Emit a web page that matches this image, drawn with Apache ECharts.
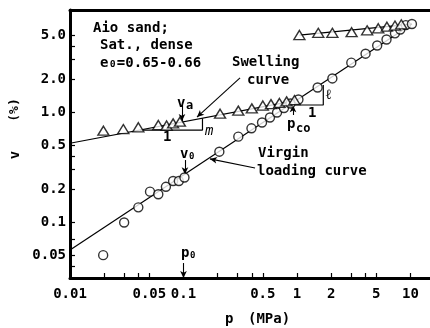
<!DOCTYPE html>
<html><head><meta charset="utf-8">
<script src="https://cdn.jsdelivr.net/npm/echarts@6/dist/echarts.min.js"></script>
<style>html,body{margin:0;padding:0;background:#fff}#c{width:430px;height:328px}</style>
</head><body><div id="c"></div>
<script>
// ---- axis ticks / labels ----
const xTickValues = [0.01,0.02,0.03,0.04,0.05,0.1,0.2,0.3,0.4,0.5,1,2,3,4,5,10];
const xLabelValues = [0.01,0.05,0.1,0.5,1,2,5,10];
const xLabelTexts = ['0.01','0.05','0.1','0.5','1','2','5','10'];
const yTickValues = [0.04,0.05,0.07,0.1,0.2,0.3,0.4,0.5,1,2,3,4,5];
const yLabelValues = [0.05,0.1,0.2,0.5,1,2,5];
const yLabelTexts = ['0.05','0.1','0.2','0.5','1.0','2.0','5.0'];

// ---- virgin loading (circles) ----
const virginP = [0.0196,0.030,0.040,0.0507,0.060,0.070,0.081,0.091,0.102,0.207,0.304,0.397,0.492,0.578,0.667,0.768,0.877,1.03,1.52,2.05,3.01,4.02,5.09,6.15,7.3,8.13,9.1,10.3];
const virginV = [0.050,0.099,0.136,0.189,0.179,0.209,0.236,0.236,0.254,0.436,0.597,0.711,0.803,0.891,0.99,1.087,1.195,1.30,1.67,2.02,2.81,3.39,4.02,4.56,5.19,5.62,6.17,6.31];
// fitted virgin loading line
const virginLineP = [0.01, 10.3];
const virginLineV = [0.0556, 6.3];

// ---- swelling (triangles) ----
const swellP = [0.0197,0.0295,0.040,0.060,0.071,0.081,0.093,0.21,0.304,0.40,0.50,0.59,0.70,0.81,0.95];
const swellV = [0.676,0.70,0.727,0.762,0.754,0.789,0.816,0.965,1.03,1.08,1.146,1.18,1.21,1.25,1.285];
const swellLineP = [0.01, 1.02];
const swellLineV = [0.52, 1.285];

// ---- upper swelling (triangles) ----
const upperP = [1.05,1.54,2.05,3.03,4.15,5.2,6.2,7.3,8.3];
const upperV = [5.01,5.25,5.25,5.32,5.53,5.77,5.96,6.11,6.27];
const upperLineP = [1.05, 10.3];
const upperLineV = [5.01, 6.3];

// ---- slope triangles ----
const slopeMP = [0.0414,0.147,0.147];
const slopeMV = [0.686,0.686,0.88];
const slopeLP = [0.90,1.705,1.705];
const slopeLV = [1.158,1.158,1.76];

const zip = (a,b) => a.map((x,i)=>[x,b[i]]);
const FONT = '"DejaVu Sans Mono", monospace';
const chart = echarts.init(document.getElementById('c'), null, {renderer:'canvas'});

const lineSeries = (p,v) => ({type:'line', data:zip(p,v), symbol:'none', lineStyle:{color:'#000', width:1.2}, z:2, silent:true, animation:false});
const arrow = (from,to,curv) => [
  {coord:from, lineStyle:{curveness:curv||0}},
  {coord:to, lineStyle:{curveness:curv||0}}
];

const txt = (x,y,s,opt) => ({type:'text', x, y, z:100, style:Object.assign({text:s, font:'bold 14px '+FONT, fill:'#000', align:'left', verticalAlign:'middle'}, opt||{})});

chart.setOption({
  animation:false,
  backgroundColor:'#fff',
  grid:{left:70, right:0, top:10, bottom:50},
  xAxis:[{
    type:'log', logBase:10, min:0.01, max:14.86,
    axisLine:{show:true, onZero:false, lineStyle:{color:'#000', width:3}},
    axisTick:{show:true, inside:true, length:5, lineStyle:{color:'#000', width:1.2}, customValues:xTickValues},
    axisLabel:{customValues:xLabelValues, margin:9, color:'#000', fontFamily:FONT, fontSize:14, fontWeight:'bold',
      formatter:(v)=>{const i=xLabelValues.findIndex(t=>Math.abs(t-v)/t<1e-6); return i>=0?xLabelTexts[i]:'';}},
    splitLine:{show:false}, minorTick:{show:false}
  },{
    type:'log', logBase:10, min:0.01, max:14.86, position:'top',
    axisLine:{show:true, onZero:false, lineStyle:{color:'#000', width:3}},
    axisTick:{show:false}, axisLabel:{show:false}, splitLine:{show:false}
  }],
  yAxis:{
    type:'log', logBase:10, min:0.031, max:8.46,
    axisLine:{show:true, onZero:false, lineStyle:{color:'#000', width:3}},
    axisTick:{show:true, inside:true, length:5, lineStyle:{color:'#000', width:1.2}, customValues:yTickValues},
    axisLabel:{customValues:yLabelValues, margin:4, color:'#000', fontFamily:FONT, fontSize:14, fontWeight:'bold',
      formatter:(v)=>{const i=yLabelValues.findIndex(t=>Math.abs(t-v)/t<1e-6); return i>=0?yLabelTexts[i]:'';}},
    splitLine:{show:false}, minorTick:{show:false}
  },
  series:[
    lineSeries(virginLineP, virginLineV),
    lineSeries(swellLineP, swellLineV),
    lineSeries(upperLineP, upperLineV),
    lineSeries(slopeMP, slopeMV),
    lineSeries(slopeLP, slopeLV),
    {type:'scatter', data:zip(virginP,virginV), symbol:'circle', symbolSize:9, z:5,
      itemStyle:{color:'#fff', borderColor:'#000', borderWidth:1.4}},
    {type:'scatter', data:zip(swellP,swellV), symbol:'triangle', symbolSize:[11,9], z:5,
      itemStyle:{color:'#fff', borderColor:'#000', borderWidth:1.4}},
    {type:'scatter', data:zip(upperP,upperV), symbol:'triangle', symbolSize:[11,9], z:5,
      itemStyle:{color:'#fff', borderColor:'#000', borderWidth:1.4}},
    {type:'line', data:[[0.1,1]], symbol:'none', lineStyle:{width:0}, z:6, silent:true,
      markLine:{silent:true, symbol:['none','arrow'], symbolSize:[5,7], label:{show:false},
        lineStyle:{color:'#000', width:1.1, type:'solid'},
        data:[
          arrow([0.315,2.04],[0.1315,0.90],0.15),   // swelling leader
          arrow([0.427,0.31],[0.171,0.375],-0.1),   // virgin leader
          arrow([0.097,1.17],[0.097,0.83]),         // va
          arrow([0.103,0.366],[0.103,0.272]),       // v0
          arrow([0.1,0.0424],[0.1,0.031]),          // p0
          arrow([0.922,0.94],[0.922,1.15])          // pco
        ]}}
  ],
  graphic:[
    txt(93,28,'Aio sand;'),
    txt(100,45,'Sat., dense'),
    txt(100,63,'e₀=0.65-0.66'),
    txt(232,62,'Swelling'),
    txt(247,80,'curve'),
    txt(258,153,'Virgin'),
    txt(257,171,'loading curve'),
    txt(177,103,'v'), txt(186,106,'a',{font:'bold 12px '+FONT}),
    txt(205,131,'m',{font:'italic 14px '+FONT}),
    txt(163,137,'1'),
    txt(180,154,'v'), txt(189,157,'0',{font:'bold 9px '+FONT}),
    txt(181,253,'p'), txt(190,256,'0',{font:'bold 9px '+FONT}),
    txt(287,124,'p'), txt(296,129,'co',{font:'bold 12px '+FONT}),
    txt(308,113,'1'),
    txt(326,95,'ℓ'),
    txt(225,319,'p'), txt(248,319,'(MPa)'),
    {type:'text', x:15, y:155, rotation:Math.PI/2, style:{text:'v', font:'bold 14px '+FONT, fill:'#000', align:'center', verticalAlign:'middle'}},
    {type:'text', x:15, y:110, rotation:Math.PI/2, style:{text:'(%)', font:'bold 13px '+FONT, fill:'#000', align:'center', verticalAlign:'middle'}}
  ]
});
</script></body></html>
